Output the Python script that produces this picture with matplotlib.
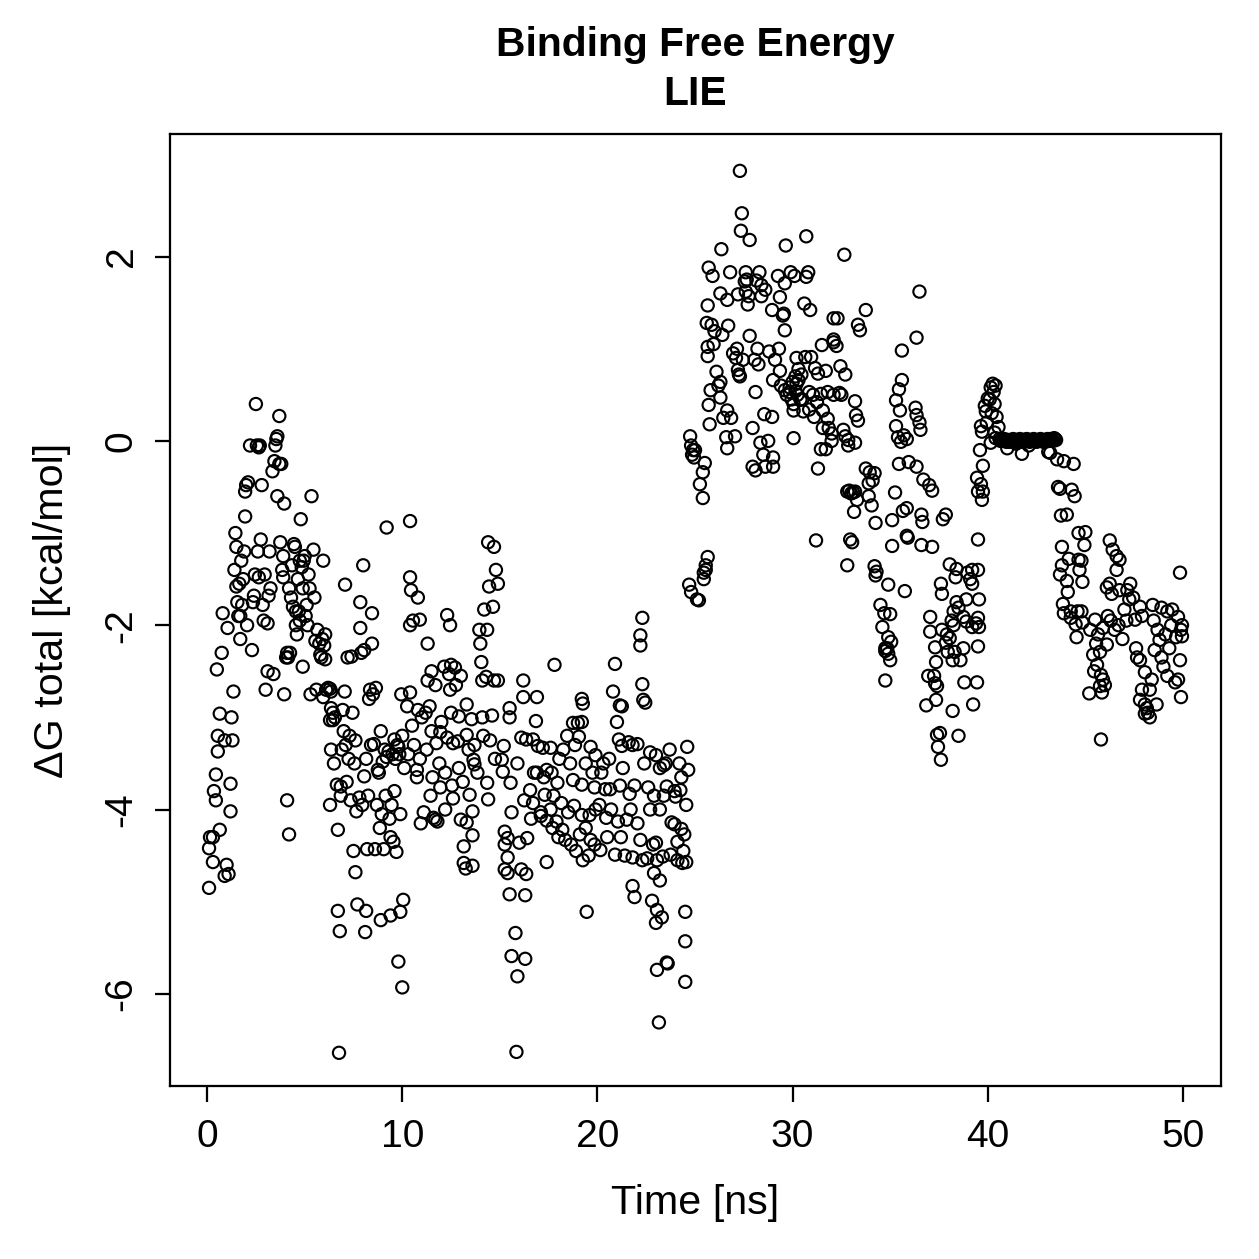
import numpy as np
import matplotlib.pyplot as plt

plt.rcParams['font.family'] = ['Liberation Sans', 'DejaVu Sans']
plt.rcParams['axes.unicode_minus'] = False

# (time [ns], dG total [kcal/mol]), in 5 ns blocks
seg_00_05 = [
    (0.10, -4.85), (0.10, -4.42), (0.15, -4.30), (0.30, -4.30), (0.30, -4.57), (0.35, -3.80),
    (0.45, -3.90), (0.45, -3.62), (0.55, -3.20), (0.55, -3.37), (0.50, -2.48), (0.65, -2.96),
    (0.65, -4.22), (0.75, -2.30), (0.80, -1.87), (0.90, -3.25), (0.90, -4.72), (1.00, -4.60),
    (1.05, -2.03), (1.10, -4.70), (1.20, -4.02), (1.20, -3.72), (1.25, -3.00), (1.30, -3.25),
    (1.35, -2.72), (1.40, -1.40), (1.50, -1.15), (1.50, -1.58), (1.60, -1.90), (1.70, -1.90),
    (1.70, -2.15), (1.80, -1.78), (1.85, -1.50), (1.90, -1.20), (1.95, -0.82), (1.95, -0.55),
    (2.00, -0.48), (2.10, -0.45), (2.20, -0.05), (2.30, -2.27), (2.40, -1.68), (2.50, 0.40),
    (2.55, -0.05), (2.65, -0.07), (2.65, -1.48), (2.70, -0.05), (2.75, -1.07), (2.80, -0.48),
    (2.85, -1.78), (2.90, -1.95), (2.95, -1.45), (3.00, -2.70), (3.10, -2.50), (3.10, -1.98),
    (3.15, -1.68), (3.25, -1.60), (3.35, -0.33), (3.45, -0.22), (3.50, -0.05), (3.55, 0.02),
    (3.60, 0.05), (3.60, -0.60), (3.70, 0.27), (3.70, -0.25), (3.80, -0.25), (3.90, -1.48),
    (3.95, -0.68), (4.05, -2.35), (4.10, -2.30), (4.10, -3.90), (4.20, -4.27), (4.25, -2.30),
    (4.30, -1.70), (4.40, -1.80), (4.45, -1.12), (4.50, -1.15), (4.65, -1.50), (4.75, -1.30),
    (4.75, -1.95), (4.80, -0.85), (4.85, -1.37), (5.00, -1.25), (5.05, -1.90), (5.10, -1.78),
    (5.15, -2.00), (5.20, -1.45), (4.35, -1.35), (4.55, -1.85), (4.60, -2.10), (4.70, -1.85),
    (4.90, -2.45), (5.25, -1.60), (3.90, -1.25), (3.85, -1.40), (1.55, -1.75), (1.65, -1.55),
    (2.05, -2.00), (2.35, -1.75), (2.45, -1.45), (3.40, -2.53), (3.95, -2.75), (4.15, -2.35),
    (4.55, -2.00), (4.95, -1.30), (1.45, -1.00), (1.75, -1.30), (2.60, -1.20), (3.20, -1.20),
    (3.75, -1.10), (4.20, -1.60), (4.90, -1.60),
]
seg_05_10 = [
    (5.35, -0.60), (5.45, -1.18), (5.50, -1.70), (5.55, -2.17), (5.65, -2.05), (5.75, -2.20),
    (5.80, -2.32), (5.85, -2.35), (5.90, -2.15), (5.95, -1.30), (6.00, -2.22), (6.05, -2.10),
    (6.05, -2.37), (5.95, -2.78), (6.10, -2.70), (6.20, -2.68), (6.30, -2.69), (6.35, -2.72),
    (6.35, -2.90), (6.30, -3.03), (6.45, -3.03), (6.35, -3.35), (6.30, -3.95), (6.45, -2.95),
    (6.55, -3.00), (6.65, -3.73), (6.70, -4.22), (6.70, -5.10), (6.76, -6.64), (6.80, -5.32),
    (6.85, -3.85), (6.85, -3.75), (6.90, -3.35), (7.00, -3.15), (7.07, -1.56), (7.20, -2.35),
    (7.40, -2.34), (7.50, -4.45), (7.60, -4.68), (7.70, -5.03), (7.80, -3.87), (7.85, -1.75),
    (7.85, -2.03), (7.90, -2.30), (8.00, -1.35), (8.05, -2.27), (8.05, -3.64), (8.10, -5.33),
    (8.15, -5.10), (8.35, -2.70), (8.45, -2.20), (8.45, -1.87), (8.50, -2.75), (8.55, -3.29),
    (8.60, -4.43), (8.65, -2.68), (8.75, -3.57), (8.85, -4.20), (8.90, -5.20), (9.00, -3.48),
    (9.05, -4.43), (9.20, -0.94), (9.20, -3.43), (9.30, -3.37), (9.40, -4.30), (9.40, -5.15),
    (9.50, -3.40), (9.60, -3.24), (9.70, -4.46), (9.80, -5.65), (9.90, -5.11), (10.00, -5.93),
    (10.05, -4.98), (7.10, -3.30), (7.30, -3.20), (7.35, -3.90), (7.45, -2.95), (7.55, -3.50),
    (7.65, -4.02), (7.95, -3.95), (8.20, -4.43), (8.25, -3.85), (8.30, -2.80), (8.40, -3.30),
    (8.70, -3.95), (8.80, -3.60), (8.95, -4.05), (9.10, -3.35), (9.35, -4.10), (9.45, -3.95),
    (9.55, -4.35), (9.65, -3.45), (9.75, -3.30), (9.85, -3.40), (9.95, -2.75), (9.90, -4.05),
    (7.05, -2.72), (6.95, -2.92), (7.25, -3.45), (5.30, -2.75), (5.60, -2.70), (6.50, -3.50),
    (7.15, -3.70), (7.60, -3.25), (8.15, -3.45), (8.90, -3.15), (9.15, -3.85), (9.60, -3.80),
]
seg_10_15 = [
    (10.40, -0.87), (10.40, -1.48), (10.45, -1.62), (10.80, -1.70), (10.90, -1.94), (10.40, -2.00),
    (10.55, -1.95), (12.30, -1.89), (12.45, -2.00), (11.30, -2.20), (14.40, -1.10), (14.70, -1.15),
    (14.45, -1.58), (14.20, -1.83), (14.65, -1.80), (14.35, -2.05), (14.00, -2.20), (14.05, -2.40),
    (14.10, -2.60), (14.30, -2.56), (14.70, -2.60), (12.50, -2.43), (12.40, -2.53), (12.70, -2.46),
    (11.50, -2.50), (11.30, -2.60), (11.70, -2.65), (12.45, -2.70), (10.40, -2.73), (10.25, -2.88),
    (10.80, -2.92), (11.40, -2.88), (12.50, -2.95), (12.90, -2.99), (13.30, -2.86), (13.55, -3.02),
    (14.60, -2.98), (10.50, -3.09), (11.50, -3.15), (11.95, -3.16), (11.75, -3.28), (12.30, -3.22),
    (12.60, -3.28), (12.85, -3.26), (13.30, -3.19), (13.70, -3.30), (13.65, -3.46), (9.80, -3.32),
    (10.00, -3.20), (10.75, -3.57), (10.75, -3.65), (11.55, -3.65), (11.95, -3.76), (12.55, -3.74),
    (12.60, -3.88), (13.45, -3.84), (13.60, -4.02), (14.35, -3.71), (13.70, -3.51), (14.40, -3.89),
    (11.10, -4.03), (11.60, -4.09), (11.70, -4.11), (11.80, -4.13), (13.00, -4.11), (13.30, -4.14),
    (13.60, -4.28), (13.15, -4.40), (13.15, -4.58), (13.25, -4.64), (13.60, -4.61), (10.10, -3.55),
    (10.30, -3.40), (11.00, -3.00), (11.20, -2.95), (12.00, -3.05), (12.15, -2.45), (12.75, -2.65),
    (13.00, -2.55), (13.95, -2.05), (14.15, -3.20), (14.80, -1.40), (14.90, -1.55), (10.60, -3.30),
    (10.90, -3.45), (11.25, -3.35), (11.90, -3.50), (12.20, -3.60), (12.90, -3.55), (13.10, -3.70),
    (13.40, -3.35), (13.85, -3.60), (14.10, -3.00), (14.50, -3.25), (14.75, -3.45), (11.45, -3.85),
    (10.95, -4.15), (12.20, -4.00),
]
seg_15_20 = [
    (17.80, -2.43), (14.90, -2.60), (16.20, -2.60), (16.20, -2.78), (16.90, -2.78), (15.50, -2.90),
    (19.20, -2.80), (19.25, -2.85), (15.50, -3.00), (16.85, -3.04), (18.75, -3.06), (19.00, -3.06),
    (19.20, -3.05), (18.45, -3.20), (16.10, -3.22), (16.35, -3.24), (16.70, -3.24), (16.95, -3.31),
    (17.20, -3.33), (17.60, -3.33), (18.25, -3.35), (18.85, -3.30), (19.05, -3.21), (19.65, -3.32),
    (19.90, -3.41), (15.20, -3.31), (15.10, -3.46), (15.15, -3.59), (15.55, -3.71), (16.75, -3.60),
    (17.40, -3.57), (17.65, -3.60), (17.95, -3.71), (18.75, -3.68), (19.20, -3.73), (19.85, -3.76),
    (16.55, -3.79), (17.30, -3.84), (16.70, -3.93), (17.10, -4.03), (17.60, -4.00), (18.15, -3.93),
    (18.50, -4.03), (18.80, -3.96), (19.20, -4.06), (19.60, -4.06), (19.90, -4.00), (15.60, -4.03),
    (17.10, -4.07), (17.40, -4.12), (17.90, -4.13), (18.20, -4.22), (18.35, -4.33), (18.65, -4.38),
    (19.10, -4.27), (19.40, -4.20), (19.65, -4.33), (19.85, -4.38), (15.25, -4.24), (15.40, -4.31),
    (15.25, -4.38), (15.40, -4.52), (15.25, -4.65), (16.00, -4.36), (16.40, -4.31), (17.40, -4.57),
    (19.25, -4.55), (15.40, -4.69), (16.10, -4.65), (16.35, -4.70), (15.50, -4.92), (16.30, -4.93),
    (19.45, -5.11), (15.80, -5.34), (15.60, -5.59), (16.30, -5.62), (15.90, -5.81), (15.85, -6.63),
    (15.90, -3.50), (16.25, -3.90), (16.90, -3.60), (17.25, -3.65), (17.75, -3.85), (18.05, -3.45),
    (18.60, -3.50), (19.40, -3.50), (19.75, -3.60), (18.00, -4.30), (18.90, -4.45), (17.70, -4.20),
    (16.60, -4.10), (19.55, -4.50),
]
seg_20_25 = [
    (22.30, -1.92), (22.20, -2.11), (22.20, -2.22), (20.90, -2.42), (22.30, -2.64), (22.35, -2.81),
    (22.45, -2.84), (20.80, -2.72), (21.15, -2.87), (21.25, -2.88), (21.10, -3.24), (21.25, -3.31),
    (21.60, -3.27), (21.80, -3.30), (22.05, -3.29), (22.70, -3.38), (23.00, -3.41), (23.20, -3.55),
    (23.40, -3.52), (24.60, -3.32), (23.50, -3.50), (24.20, -3.50), (23.55, -3.75), (23.95, -3.80),
    (20.40, -3.78), (20.65, -3.78), (21.15, -3.74), (21.65, -3.83), (21.90, -3.74), (22.60, -3.76),
    (22.90, -3.85), (23.40, -3.85), (24.00, -3.86), (24.25, -3.79), (24.65, -3.57), (20.45, -4.09),
    (21.05, -4.13), (21.50, -4.11), (22.20, -4.33), (22.85, -4.38), (23.00, -4.36), (23.80, -4.14),
    (23.95, -4.16), (24.30, -4.21), (24.45, -4.27), (20.15, -4.44), (20.90, -4.49), (21.80, -4.52),
    (22.30, -4.55), (22.55, -4.53), (23.05, -4.55), (23.35, -4.51), (23.75, -4.49), (24.10, -4.55),
    (24.35, -4.58), (24.55, -4.57), (21.80, -4.83), (21.90, -4.95), (22.90, -4.69), (23.20, -4.77),
    (22.80, -4.99), (23.05, -5.09), (23.30, -5.17), (23.00, -5.23), (24.50, -5.11), (24.50, -5.43),
    (23.60, -5.67), (23.55, -5.66), (23.05, -5.74), (24.50, -5.87), (23.15, -6.31), (20.10, -3.95),
    (20.30, -3.50), (20.60, -3.45), (21.00, -3.05), (21.40, -4.50), (22.05, -4.15), (24.40, -4.45),
    (24.10, -4.35), (20.20, -3.60), (20.70, -4.00), (21.30, -3.55), (21.70, -4.00), (22.40, -3.50),
    (22.70, -4.00), (23.20, -4.00), (23.70, -3.35), (24.30, -3.65), (24.55, -3.95), (20.50, -4.30),
    (21.20, -4.30),
]
seg_25_30 = [
    (24.75, 0.05), (24.80, -0.05), (24.90, -0.10), (24.95, -0.18), (25.00, -0.10), (24.85, -0.15),
    (25.50, -0.24), (25.40, -0.34), (25.25, -0.47), (25.40, -0.62), (24.70, -1.56), (24.80, -1.64),
    (25.10, -1.72), (25.20, -1.73), (25.45, -1.50), (25.55, -1.40), (25.65, -1.26), (25.55, -1.35),
    (25.45, -1.43), (25.70, 0.39), (25.75, 0.18), (25.65, 1.02), (25.65, 0.92), (25.80, 0.55),
    (26.10, 0.75), (26.30, 0.64), (26.30, 0.47), (26.45, 0.25), (26.60, 0.04), (26.65, -0.08),
    (27.25, 0.72), (27.20, 0.77), (27.30, 0.70), (27.45, 0.88), (26.95, 0.95), (27.10, 0.90),
    (27.80, 1.14), (28.05, 0.88), (28.10, 0.53), (27.95, 0.14), (27.95, -0.28), (28.10, -0.32),
    (28.60, -0.28), (29.00, -0.28), (29.00, -0.18), (28.50, -0.15), (28.75, 0.00), (28.35, -0.02),
    (28.55, 0.29), (28.95, 0.26), (29.00, 0.66), (28.80, 0.97), (29.10, 0.88), (29.35, 0.76),
    (29.40, 0.60), (29.60, 0.55), (29.85, 0.53), (27.30, 2.93), (27.40, 2.47), (27.35, 2.28),
    (27.80, 2.18), (26.35, 2.08), (29.65, 2.12), (25.70, 1.88), (25.90, 1.79), (26.80, 1.83),
    (27.60, 1.83), (27.55, 1.73), (27.65, 1.75), (28.30, 1.83), (28.40, 1.69), (29.25, 1.79),
    (29.90, 1.83), (30.10, 1.79), (26.30, 1.60), (27.20, 1.59), (26.65, 1.53), (27.75, 1.57),
    (28.15, 1.74), (29.35, 1.56), (25.65, 1.47), (27.60, 1.62), (27.70, 1.48), (28.40, 1.57),
    (28.60, 1.64), (29.60, 1.71), (29.55, 1.38), (25.60, 1.28), (25.85, 1.26), (26.00, 1.19),
    (26.40, 1.15), (26.70, 1.25), (27.15, 1.00), (25.95, 1.05), (26.20, 0.60), (28.95, 1.42),
    (29.50, 1.36), (29.60, 1.20), (29.30, 1.00), (26.85, 0.25), (27.05, 0.05), (26.65, 0.33),
    (28.20, 1.00), (28.25, 0.83),
]
seg_30_35 = [
    (30.70, 2.22), (30.80, 1.83), (30.70, 1.78), (30.60, 1.49), (30.90, 1.42), (32.65, 2.02),
    (32.10, 1.33), (32.30, 1.33), (33.75, 1.42), (33.35, 1.26), (33.45, 1.20), (32.10, 1.10),
    (32.10, 1.07), (32.25, 1.03), (31.50, 1.04), (30.95, 0.91), (30.20, 0.90), (30.65, 0.91),
    (31.15, 0.79), (31.30, 0.73), (31.70, 0.76), (32.45, 0.81), (32.70, 0.72), (30.45, 0.72),
    (30.30, 0.66), (30.20, 0.62), (30.15, 0.54), (30.25, 0.50), (29.95, 0.45), (30.05, 0.40),
    (30.05, 0.33), (30.40, 0.45), (30.50, 0.45), (30.85, 0.53), (31.05, 0.50), (31.25, 0.42),
    (31.45, 0.51), (31.80, 0.53), (32.10, 0.50), (32.40, 0.52), (32.50, 0.50), (33.20, 0.43),
    (33.25, 0.28), (33.35, 0.22), (30.85, 0.34), (30.55, 0.32), (31.10, 0.26), (31.55, 0.33),
    (31.80, 0.24), (31.55, 0.14), (31.85, 0.14), (32.00, 0.08), (32.00, 0.00), (32.85, 0.01),
    (32.85, -0.05), (33.20, -0.02), (31.70, -0.09), (31.45, -0.09), (30.05, 0.03), (31.30, -0.30),
    (32.60, 0.12), (32.70, 0.05), (32.80, -0.55), (33.00, -0.57), (33.10, -0.56), (33.20, -0.55),
    (32.90, -0.54), (33.30, -0.64), (33.15, -0.77), (31.20, -1.08), (32.95, -1.07), (33.05, -1.10),
    (32.80, -1.35), (33.75, -0.30), (33.95, -0.34), (33.90, -0.46), (34.10, -0.43), (34.20, -0.35),
    (34.25, -0.89), (34.20, -1.36), (34.30, -1.42), (34.25, -1.46), (34.50, -1.78), (34.60, -2.02),
    (34.75, -2.25), (34.75, -2.28), (34.85, -2.25), (34.70, -1.87), (34.75, -2.60), (33.90, -0.60),
    (34.05, -0.70), (29.70, 0.50), (29.85, 0.58), (30.00, 0.64), (30.15, 0.70), (30.30, 0.78),
]
seg_35_40 = [
    (36.50, 1.62), (36.35, 1.12), (35.60, 0.98), (35.60, 0.66), (35.45, 0.56), (35.30, 0.44),
    (35.50, 0.33), (36.30, 0.36), (36.35, 0.28), (36.50, 0.20), (36.55, 0.12), (35.30, 0.16),
    (35.40, 0.04), (35.70, 0.06), (35.55, -0.01), (35.85, 0.02), (35.45, -0.25), (35.95, -0.23),
    (36.35, -0.28), (36.70, -0.42), (37.00, -0.48), (35.25, -0.56), (37.15, -0.54), (35.85, -0.73),
    (35.65, -0.76), (36.60, -0.80), (36.65, -0.88), (35.85, -1.03), (35.90, -1.05), (37.70, -0.85),
    (37.85, -0.80), (35.10, -0.86), (35.10, -1.14), (36.60, -1.13), (37.15, -1.15), (38.05, -1.34),
    (38.40, -1.39), (38.35, -1.48), (38.95, -1.43), (39.20, -1.40), (38.90, -1.72), (34.90, -1.56),
    (35.75, -1.63), (37.65, -1.66), (37.60, -1.55), (38.40, -1.75), (38.25, -1.85), (38.50, -1.81),
    (38.15, -1.95), (38.25, -2.00), (38.05, -2.14), (37.65, -2.05), (37.90, -2.10), (38.75, -1.91),
    (38.90, -1.96), (39.20, -2.02), (39.40, -1.98), (35.00, -1.88), (34.90, -2.31), (34.90, -2.13),
    (35.05, -2.18), (35.00, -2.38), (37.05, -1.91), (37.05, -2.07), (37.85, -2.19), (37.95, -2.29),
    (38.30, -2.29), (38.60, -2.38), (38.75, -2.25), (38.20, -2.38), (37.30, -2.24), (37.35, -2.40),
    (37.25, -2.55), (37.30, -2.63), (37.40, -2.66), (37.35, -2.81), (38.20, -2.93), (39.25, -2.86),
    (38.80, -2.62), (37.40, -3.19), (37.55, -3.17), (37.45, -3.32), (37.60, -3.46), (38.50, -3.20),
    (36.85, -2.87), (36.95, -2.55), (39.20, -1.55), (39.10, -1.50), (39.45, -0.40), (39.50, -0.55),
    (39.50, -1.07), (39.50, -1.40), (39.55, -1.72), (39.50, -1.92), (39.55, -2.02), (39.50, -2.23),
    (39.45, -2.62),
]
seg_40_45 = [
    (40.25, 0.62), (40.15, 0.58), (40.00, 0.46), (39.85, 0.38), (39.90, 0.32), (39.95, 0.20),
    (39.70, 0.10), (39.65, 0.16), (40.15, -0.02), (40.40, 0.03), (40.35, 0.09), (39.60, -0.10),
    (39.75, -0.27), (39.65, -0.47), (39.75, -0.55), (39.70, -0.64), (40.30, 0.53), (40.10, 0.45),
    (40.40, 0.60), (40.45, 0.26), (40.55, 0.15), (40.35, 0.40), (40.20, 0.30),
    (40.60, 0.02), (40.70, 0.01), (40.80, 0.00), (40.90, 0.01), (41.00, 0.00), (41.10, -0.01),
    (41.20, 0.00), (41.30, 0.02), (41.40, 0.01), (41.50, 0.00), (41.60, 0.01), (41.70, -0.01),
    (41.80, 0.00), (41.90, 0.01), (42.00, 0.02), (42.10, 0.00), (42.20, 0.01), (42.30, 0.00),
    (42.40, 0.01), (42.50, -0.01), (42.60, 0.00), (42.70, 0.02), (42.80, 0.01), (42.90, 0.00),
    (43.00, 0.01), (43.10, 0.00), (43.20, 0.02), (43.30, 0.01), (43.40, 0.03), (43.50, 0.01),
    (40.65, 0.00), (40.75, 0.01), (40.85, 0.02), (40.95, -0.01), (41.05, 0.01), (41.15, 0.00),
    (41.25, 0.01), (41.35, 0.00), (41.45, -0.01), (41.55, 0.01), (41.65, 0.02), (41.75, 0.00),
    (41.85, 0.01), (41.95, 0.00), (42.05, 0.01), (42.15, -0.01), (42.25, 0.00), (42.35, 0.02),
    (42.45, 0.00), (42.55, 0.01), (42.65, 0.00), (42.75, 0.01), (42.85, -0.01), (42.95, 0.00),
    (43.05, 0.02), (43.15, 0.00), (43.25, 0.01), (43.35, 0.00), (43.45, 0.02),
    (41.00, -0.08), (41.45, -0.03), (41.75, -0.14), (42.10, -0.05), (43.10, -0.12), (43.20, -0.13),
    (43.90, -0.22), (43.55, -0.20), (43.60, -0.50), (43.70, -0.52), (44.30, -0.53), (43.75, -0.81),
    (44.05, -0.80), (44.45, -0.60), (44.40, -0.25), (43.80, -1.15), (43.80, -1.35), (44.15, -1.28),
    (43.70, -1.45), (44.05, -1.52), (44.10, -1.64), (43.85, -1.77), (43.90, -1.87), (44.25, -1.85),
    (44.25, -1.92), (44.60, -1.85), (44.85, -1.97), (44.50, -1.99), (44.65, -1.00), (44.80, -1.30),
]
seg_45_50 = [
    (45.00, -0.99), (44.95, -1.13), (44.65, -1.29), (44.70, -1.40), (44.85, -1.53), (46.25, -1.08),
    (46.40, -1.18), (46.60, -1.25), (46.75, -1.29), (49.85, -1.43), (46.60, -1.40), (46.25, -1.55),
    (46.10, -1.59), (46.35, -1.66), (46.75, -1.62), (47.15, -1.62), (47.25, -1.72), (47.00, -1.83),
    (47.55, -1.94), (47.80, -1.80), (47.90, -1.90), (48.45, -1.78), (48.90, -1.81), (49.20, -1.85),
    (49.45, -1.83), (49.75, -1.91), (49.95, -2.00), (49.65, -2.13), (48.80, -2.16), (48.55, -2.27),
    (48.90, -2.35), (49.30, -2.25), (49.85, -2.38), (49.75, -2.59), (49.90, -2.78), (49.60, -2.62),
    (47.60, -2.25), (47.65, -2.35), (47.80, -2.38), (48.05, -2.51), (48.40, -2.59), (48.30, -2.70),
    (47.90, -2.70), (47.80, -2.81), (48.05, -2.86), (48.05, -2.96), (48.30, -3.00), (48.65, -2.86),
    (45.50, -1.94), (45.25, -2.05), (45.65, -2.10), (45.90, -2.03), (46.10, -2.21), (45.75, -2.29),
    (45.40, -2.32), (45.60, -2.43), (45.45, -2.50), (45.80, -2.54), (45.90, -2.59), (45.75, -2.66),
    (45.85, -2.73), (45.20, -2.74), (45.80, -3.24), (44.80, -1.85), (44.55, -2.13), (46.30, -1.95),
    (46.50, -2.05), (46.15, -1.90), (46.70, -2.00), (47.30, -1.55), (47.45, -1.70), (47.10, -1.95),
    (46.90, -2.15), (48.50, -1.95), (48.70, -2.05), (49.10, -2.10), (49.40, -2.00), (49.00, -2.45),
    (49.20, -2.55), (48.15, -2.90), (48.20, -2.95), (46.00, -2.65), (45.55, -2.20), (49.90, -2.05),
    (49.95, -2.12),
]

segments = [seg_00_05, seg_05_10, seg_10_15, seg_15_20, seg_20_25,
            seg_25_30, seg_30_35, seg_35_40, seg_40_45, seg_45_50]
pts = np.array([p for seg in segments for p in seg])
time_ns = pts[:, 0]
dg_total = pts[:, 1]

W = 1259
fig = plt.figure(figsize=(W / 180, W / 180), dpi=180)
ax = fig.add_axes([170 / W, 173 / W, 1051 / W, 952 / W])

ax.scatter(time_ns, dg_total, s=24, facecolors='none', edgecolors='black', linewidths=0.85)

ax.set_xlim(-1.9, 51.95)
ax.set_ylim(-7.0, 3.33)
ax.set_xticks([0, 10, 20, 30, 40, 50])
ax.set_yticks([-6, -4, -2, 0, 2])
ax.tick_params(direction='out', length=6.2, width=0.9, labelsize=15.6, pad=7)
ax.tick_params(axis='y', labelrotation=90, pad=6)
for lab in ax.get_yticklabels():
    lab.set_va('center')
for sp in ax.spines.values():
    sp.set_linewidth(0.9)

fig.text(695.5 / W, 1 - 45 / W, 'Binding Free Energy', ha='center', va='center',
         fontsize=16.3, fontweight='bold')
fig.text(695.5 / W, 1 - 94 / W, 'LIE', ha='center', va='center',
         fontsize=16.3, fontweight='bold')
fig.text(695.5 / W, 1 - 1203 / W, 'Time [ns]', ha='center', va='center', fontsize=16.5)
fig.text(52 / W, 1 - 610 / W, 'ΔG total [kcal/mol]', ha='center', va='center',
         rotation=90, fontsize=16.5)

fig.savefig('out.png', dpi=180, facecolor='white')
